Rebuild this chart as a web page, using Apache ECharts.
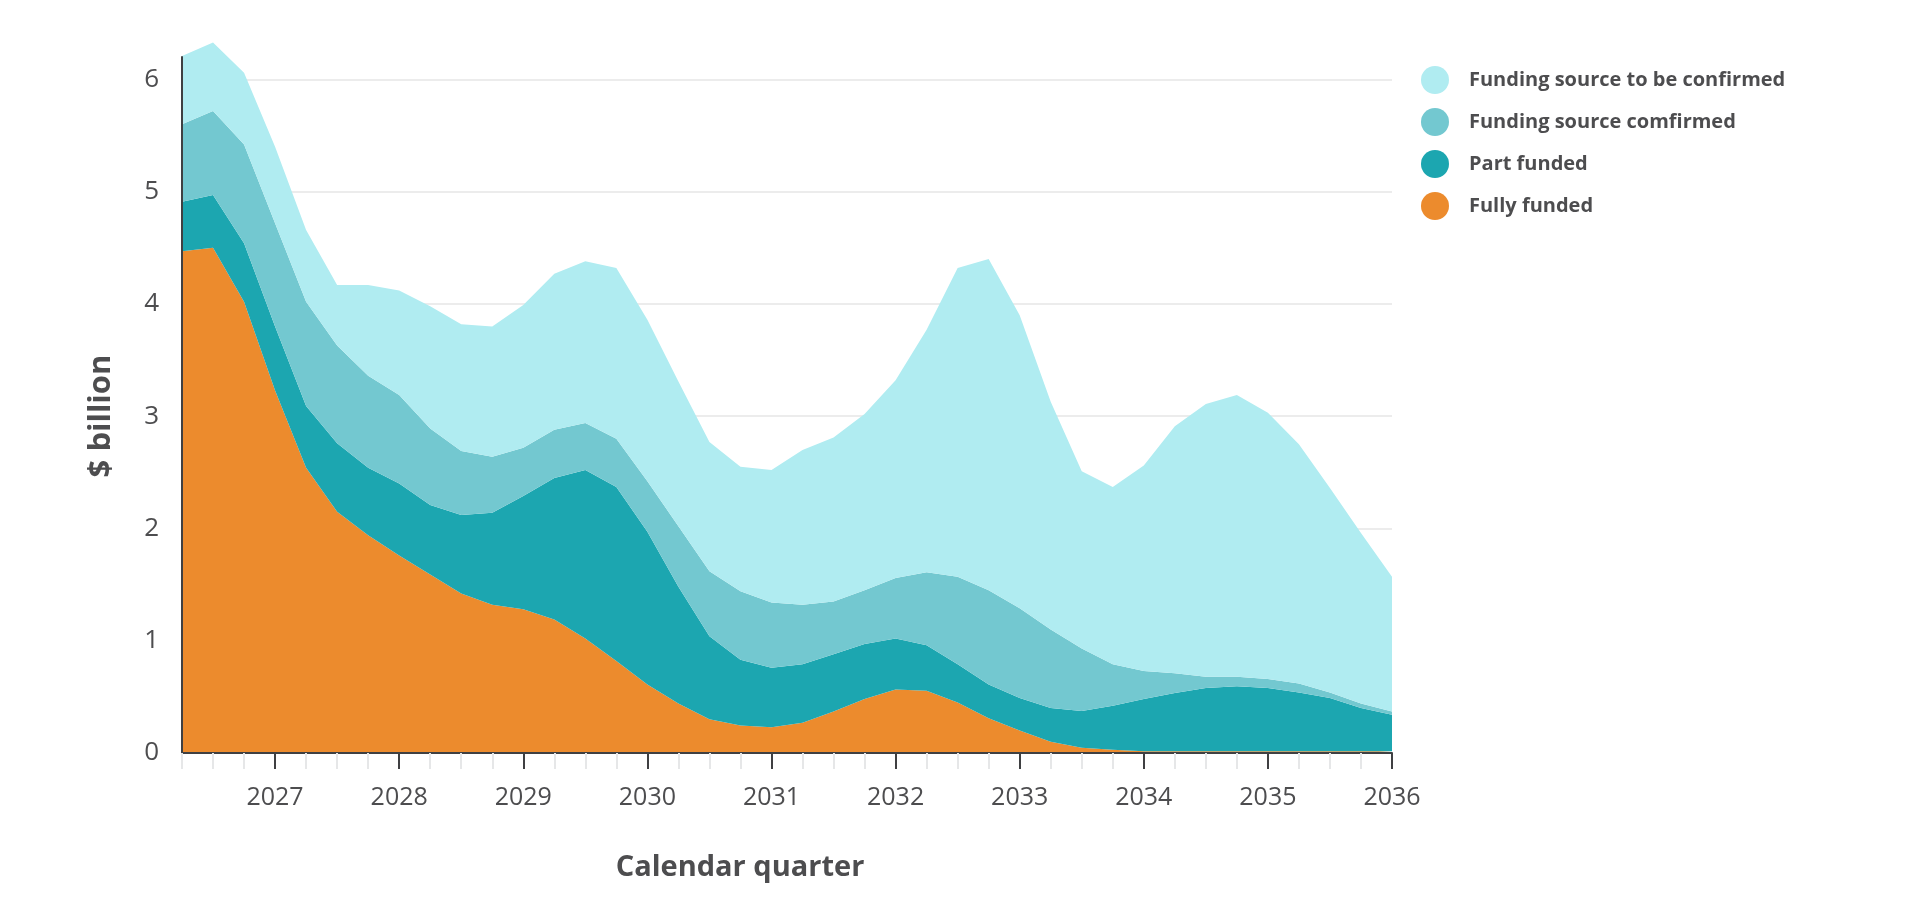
<!DOCTYPE html>
<html lang="en">
<head>
    <meta charset="utf-8">
    <title>Funding by calendar quarter</title>
    <script src="https://cdn.jsdelivr.net/npm/echarts@6/dist/echarts.min.js"></script>
    <style>
        html, body { margin: 0; padding: 0; background: #fff; }
        #main { width: 1920px; height: 917px; }
    </style>
</head>
<body>
<div id="main"></div>
<script>
    // quarters, first point 2026 Q2, last 2036 Q1
    var quarters = [
        '2026 Q2', '2026 Q3', '2026 Q4',
        '2027 Q1', '2027 Q2', '2027 Q3', '2027 Q4',
        '2028 Q1', '2028 Q2', '2028 Q3', '2028 Q4',
        '2029 Q1', '2029 Q2', '2029 Q3', '2029 Q4',
        '2030 Q1', '2030 Q2', '2030 Q3', '2030 Q4',
        '2031 Q1', '2031 Q2', '2031 Q3', '2031 Q4',
        '2032 Q1', '2032 Q2', '2032 Q3', '2032 Q4',
        '2033 Q1', '2033 Q2', '2033 Q3', '2033 Q4',
        '2034 Q1', '2034 Q2', '2034 Q3', '2034 Q4',
        '2035 Q1', '2035 Q2', '2035 Q3', '2035 Q4',
        '2036 Q1'
    ];

    // $ billion per quarter, stacked bottom to top
    var fullyFunded = [
        4.47, 4.50, 4.02, 3.23, 2.54, 2.15, 1.94, 1.76, 1.59, 1.42,
        1.32, 1.28, 1.19, 1.02, 0.82, 0.61, 0.44, 0.30, 0.245, 0.23,
        0.27, 0.37, 0.48, 0.565, 0.555, 0.45, 0.31, 0.20, 0.10, 0.046,
        0.028, 0.015, 0.015, 0.015, 0.015, 0.015, 0.015, 0.015, 0.015, 0.015
    ];
    var partFunded = [
        0.44, 0.47, 0.52, 0.57, 0.55, 0.61, 0.60, 0.64, 0.62, 0.70,
        0.82, 1.01, 1.26, 1.50, 1.55, 1.36, 1.04, 0.74, 0.585, 0.53,
        0.52, 0.51, 0.49, 0.455, 0.405, 0.34, 0.30, 0.29, 0.30, 0.329,
        0.392, 0.465, 0.52, 0.565, 0.58, 0.565, 0.525, 0.475, 0.385, 0.325
    ];
    var sourceConfirmed = [
        0.69, 0.75, 0.88, 0.92, 0.93, 0.87, 0.82, 0.79, 0.68, 0.57,
        0.50, 0.43, 0.43, 0.42, 0.43, 0.45, 0.54, 0.58, 0.61, 0.58,
        0.53, 0.47, 0.48, 0.54, 0.65, 0.78, 0.84, 0.80, 0.70, 0.555,
        0.37, 0.25, 0.175, 0.10, 0.085, 0.08, 0.08, 0.05, 0.04, 0.03
    ];
    var sourceToConfirm = [
        0.61, 0.61, 0.64, 0.68, 0.64, 0.54, 0.81, 0.93, 1.09, 1.13,
        1.16, 1.27, 1.39, 1.44, 1.52, 1.44, 1.29, 1.15, 1.11, 1.18,
        1.38, 1.46, 1.57, 1.76, 2.16, 2.75, 2.95, 2.61, 2.03, 1.58,
        1.58, 1.83, 2.20, 2.43, 2.51, 2.37, 2.13, 1.82, 1.52, 1.20
    ];

    var legendNames = [
        'Funding source to be confirmed',
        'Funding source comfirmed',
        'Part funded',
        'Fully funded'
    ];

    var textColor = '#4d4d4f';
    var fontFamily = '"Open Sans", Lato, sans-serif';

    // year label / dark tick on each Q1
    function isYearStart(index) {
        return index % 4 === 3;
    }

    function areaSeries(name, data, color) {
        return {
            name: name,
            type: 'line',
            stack: 'total',
            data: data,
            symbol: 'none',
            clip: false,
            lineStyle: {width: 0},
            areaStyle: {color: color, opacity: 1},
            itemStyle: {color: color},
            emphasis: {disabled: true}
        };
    }

    var myChart = echarts.init(document.getElementById('main'));

    var option = {
        animation: false,
        textStyle: {fontFamily: fontFamily},
        grid: {left: 182, right: 528, top: 57, bottom: 164},
        legend: {
            data: legendNames,
            orient: 'vertical',
            left: 1416,
            top: 61,
            icon: 'circle',
            itemWidth: 28,
            itemHeight: 28,
            itemGap: 14,
            selectedMode: false,
            textStyle: {
                color: textColor,
                fontSize: 20,
                fontWeight: 'bold',
                fontFamily: fontFamily,
                padding: [0, 0, 0, 15]
            }
        },
        xAxis: [
            {
                type: 'category',
                data: quarters,
                boundaryGap: false,
                position: 'bottom',
                z: 3,
                axisLine: {lineStyle: {color: '#3f4042', width: 2}},
                axisTick: {
                    interval: 0,
                    length: 16,
                    lineStyle: {color: '#e6e7e8', width: 2}
                },
                axisLabel: {
                    interval: isYearStart,
                    formatter: function (v) { return v.slice(0, 4); },
                    color: textColor,
                    fontSize: 25,
                    margin: 32
                },
                splitLine: {show: false},
                name: 'Calendar quarter',
                nameLocation: 'middle',
                nameGap: 100,
                nameTextStyle: {
                    color: textColor,
                    fontSize: 29,
                    fontWeight: 'bold',
                    padding: [0, 94, 0, 0]
                }
            },
            {
                type: 'category',
                data: quarters,
                boundaryGap: false,
                position: 'bottom',
                z: 4,
                axisLine: {show: false},
                axisTick: {
                    interval: isYearStart,
                    length: 16,
                    lineStyle: {color: '#3f4042', width: 2}
                },
                axisLabel: {show: false},
                splitLine: {show: false}
            }
        ],
        yAxis: [
            {
                type: 'value',
                min: 0,
                max: 6.2,
                interval: 1,
                position: 'left',
                axisLine: {show: false},
                axisTick: {show: false},
                axisLabel: {
                    color: textColor,
                    fontSize: 26,
                    margin: 23,
                    showMaxLabel: false
                },
                splitLine: {
                    showMinLine: false,
                    showMaxLine: false,
                    lineStyle: {color: '#ececec', width: 2}
                },
                name: '$ billion',
                nameLocation: 'middle',
                nameGap: 65,
                nameTextStyle: {
                    color: textColor,
                    fontSize: 31,
                    fontWeight: 'bold',
                    padding: [0, 22, 0, 0]
                }
            },
            {
                type: 'value',
                min: 0,
                max: 6.2,
                interval: 1,
                position: 'left',
                z: 3,
                axisLine: {show: true, lineStyle: {color: '#3f4042', width: 2}},
                axisTick: {show: false},
                axisLabel: {show: false},
                splitLine: {show: false}
            }
        ],
        series: [
            areaSeries('Fully funded', fullyFunded, '#ec8b2d'),
            areaSeries('Part funded', partFunded, '#1ca6b0'),
            areaSeries('Funding source comfirmed', sourceConfirmed, '#73c8d0'),
            areaSeries('Funding source to be confirmed', sourceToConfirm, '#b0ecf1')
        ]
    };

    myChart.setOption(option);
</script>
</body>
</html>
